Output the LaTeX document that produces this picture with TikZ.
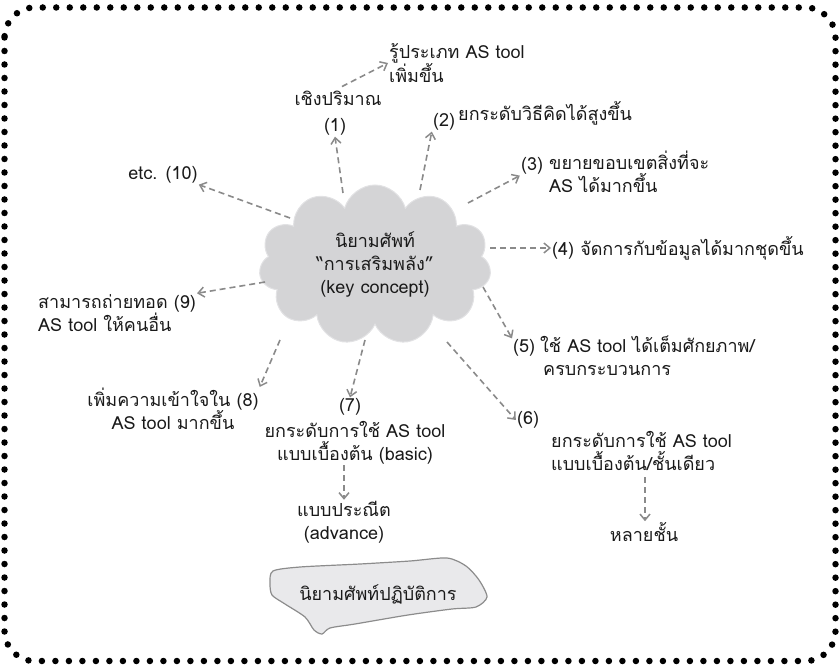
\documentclass[tikz,border=0pt]{standalone}
\usepackage{fontspec}
\setmainfont[Script=Thai]{Loma}
\usetikzlibrary{arrows.meta,shapes.symbols}
\definecolor{arrowgray}{HTML}{8A8A8A}
\definecolor{cloudgray}{HTML}{D4D4D6}
\definecolor{cloudedge}{HTML}{E2E2E4}
\definecolor{blobfill}{HTML}{E9E9EB}
\definecolor{blobedge}{HTML}{8C8C8C}
\definecolor{txt}{HTML}{1A1A1A}
\tikzset{
  arr/.style={draw=arrowgray, line width=1.6pt, dash pattern=on 6pt off 4pt,
    -{Straight Barb[length=6pt,width=10pt,line width=1.5pt]}},
  lbl/.style={inner sep=1pt, text=txt, font=\fontsize{18}{23}\selectfont},
  lblL/.style={lbl, align=left},
  lblC/.style={lbl, align=center},
}
\begin{document}
\begin{tikzpicture}[x=1pt,y=-1pt]
\useasboundingbox (0,0) rectangle (840,668);
% dotted frame
\draw[line width=6.5pt, dash pattern=on 0pt off 13.5pt, line cap=round, rounded corners=30pt]
  (4.5,7.5) rectangle (835.5,661);
% cloud
\node[cloud, cloud puffs=11, aspect=1.45, fill=cloudgray, draw=cloudedge, line width=1pt,
  minimum width=232pt, minimum height=160pt, lblC] (cloud) at (375,265)
  {นิยามศัพท์\\“การเสริมพลัง”\\(key concept)};
% cloud exit points
\coordinate (c1) at (343,193);
\coordinate (c2) at (420,190);
\coordinate (c3) at (468,203);
\coordinate (c4) at (490,248);
\coordinate (c5) at (483,287);
\coordinate (c6) at (447,342);
\coordinate (c7) at (365,340);
\coordinate (c8) at (280,340);
\coordinate (c9) at (265,282);
\coordinate (c10) at (290,218);
% labels
\node[lblL, anchor=west] (t1) at (388,63) {รู้ประเภท AS tool\\เพิ่มขึ้น};
\node[lbl] (q1) at (338,98) {เชิงปริมาณ};
\node[lbl] (n1) at (335,127) {(1)};
\node[lbl] (n2) at (444,122) {(2)};
\node[lbl, anchor=west] (t2) at (457,113) {ยกระดับวิธีคิดได้สูงขึ้น};
\node[lbl] (n3) at (532,166) {(3)};
\node[lblL, anchor=west] (t3) at (548,172) {ขยายขอบเขตสิ่งที่จะ\\AS ได้มากขึ้น};
\node[lbl, anchor=west] (t4) at (551,248) {(4) จัดการกับข้อมูลได้มากชุดขึ้น};
\node[lbl, anchor=west] (n5) at (512,348) {(5)};
\node[lblL, anchor=north west] (t5) at (539,335) {ใช้ AS tool ได้เต็มศักยภาพ/\\\hspace*{3pt}ครบกระบวนการ};
\node[lbl] (n6) at (528,420) {(6)};
\node[lblL, anchor=west] (t6) at (550,451) {ยกระดับการใช้ AS tool\\แบบเบื้องต้น/ชั้นเดียว};
\node[lbl] (t6b) at (644,532) {หลายชั้น};
\node[lbl] (n7) at (350,407) {(7)};
\node[lblC] (t7) at (355,443) {ยกระดับการใช้ AS tool\\แบบเบื้องต้น (basic)};
\node[lblC] (t7b) at (344,522) {แบบประณีต\\(advance)};
\node[lblC] (t8) at (173,409) {เพิ่มความเข้าใจใน (8)\\AS tool มากขึ้น};
\node[lblL, anchor=west] (t9) at (37,313) {สามารถถ่ายทอด (9)\\AS tool ให้คนอื่น};
\node[lbl] (t10) at (163,175) {etc. (10)};
% connectors
\draw[arr] (c1) -- (n1.south);
\draw[arr] (q1.north) ++(4,-3) coordinate (q1s) (q1s) -- (t1.west);
\draw[arr] (c2) -- (n2.south west);
\draw[arr] (c3) -- (n3.south west);
\draw[arr] (c4) -- (t4.west);
\draw[arr] (c5) -- (n5.north west);
\draw[arr] (c6) -- (n6.west);
\draw[arr] (c7) -- (n7.north);
\draw[arr] (c8) -- (t8.north east);
\draw[arr] (c9) -- (t9.north east);
\draw[arr] (c10) -- (t10.south east);
\coordinate (a6) at (645,477);
\draw[arr] (a6) -- (t6b.north -| a6);
\coordinate (a7) at (344,465);
\draw[arr] (a7) -- (t7b.north -| a7);
% operational definition blob
\draw[fill=blobfill, draw=blobedge, line width=1.2pt]
  plot[smooth cycle, tension=0.45] coordinates {
  (273,571) (300,567) (360,564) (410,561) (447,558) (466,566) (479,580) (487,597)
  (476,607) (452,609) (408,615) (355,624) (330,628) (322,634) (314,630)
  (305,617) (285,604) (272,595) (270,583)};
\node[lbl] (op) at (378,594) {นิยามศัพท์ปฏิบัติการ};
\end{tikzpicture}
\end{document}
